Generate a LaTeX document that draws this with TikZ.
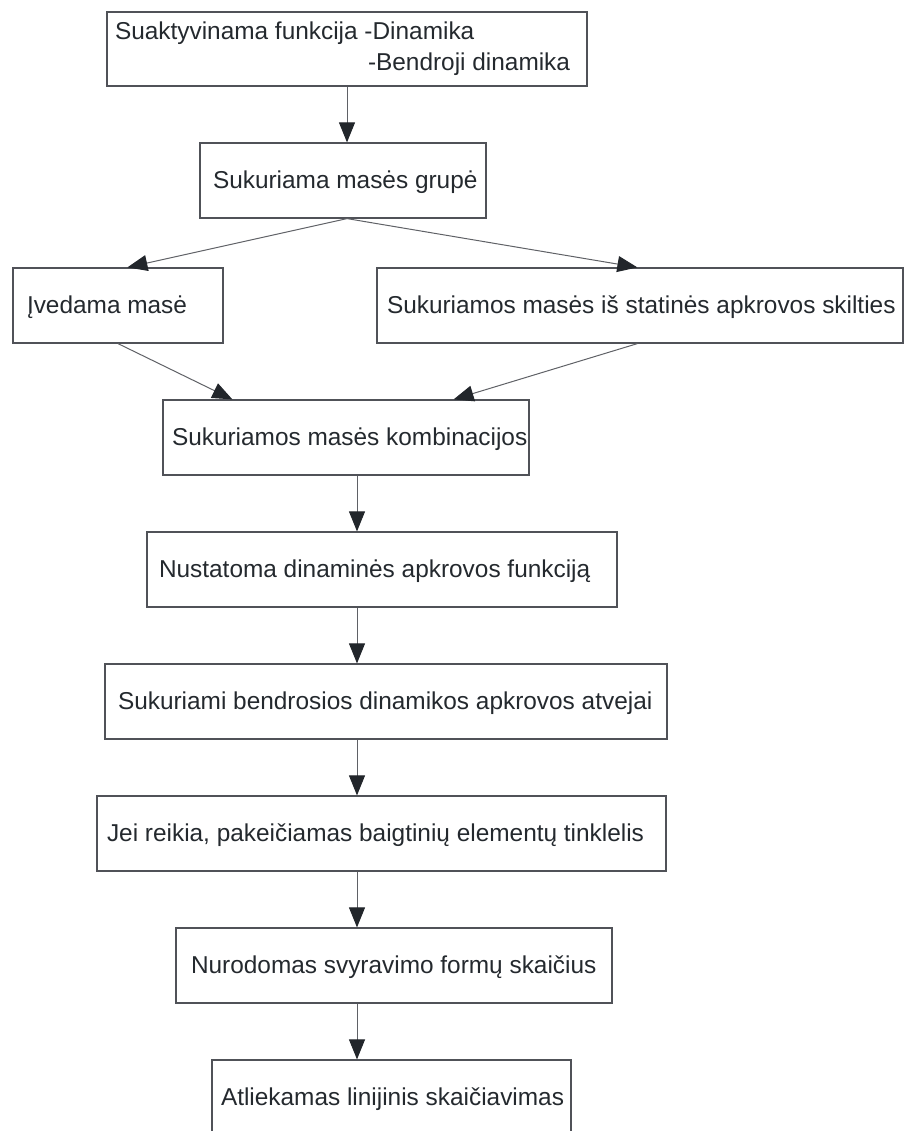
\documentclass[tikz,border=0pt]{standalone}
\usepackage{fontspec}
\setmainfont{Liberation Sans}
\usetikzlibrary{arrows.meta,calc}
\definecolor{txt}{RGB}{36,41,46}
\definecolor{edge}{RGB}{80,82,88}
\definecolor{conn}{RGB}{95,97,102}
\definecolor{head}{RGB}{34,38,43}
\tikzset{
  box/.style={draw=edge, line width=1.2pt, inner sep=0pt, minimum height=75pt,
    text=txt, font=\fontsize{24.4}{31}\selectfont},
  onel/.style={text height=21pt, text depth=5pt},
  arr/.style={draw=conn, line width=1pt,
    -{Triangle[length=20pt,width=16pt,color=head]}},
}
\begin{document}
\begin{tikzpicture}[x=1pt,y=-1pt]
\useasboundingbox (0,0) rectangle (909,1131);
\node[box, minimum height=74pt] (A) at (347,49) {\vbox{\hbox to 480pt{\hskip8pt Suaktyvinama funkcija -Dinamika\hss}\hbox to 480pt{\hskip261pt -Bendroji dinamika\hss}}};
\node[box,onel] (B) at (343,180.5) {\hbox to 286pt{\hskip13pt Sukuriama masės grupė\hss}};
\node[box,onel] (C) at (118,305.5) {\hbox to 210pt{\hskip14pt Įvedama masė\hss}};
\node[box,onel] (D) at (640,305.5) {\hbox to 526pt{\hskip10pt Sukuriamos masės iš statinės apkrovos skilties\hss}};
\node[box,onel] (E) at (346,437.5) {\hbox to 366pt{\hskip9pt Sukuriamos masės kombinacijos\hss}};
\node[box,onel] (F) at (382,569.5) {\hbox to 470pt{\hskip12pt Nustatoma dinaminės apkrovos funkciją\hss}};
\node[box,onel] (G) at (386,701.5) {\hbox to 562pt{\hskip13pt Sukuriami bendrosios dinamikos apkrovos atvejai\hss}};
\node[box,onel] (H) at (381.5,833.5) {\hbox to 569pt{\hskip10pt Jei reikia, pakeičiamas baigtinių elementų tinklelis\hss}};
\node[box,onel] (I) at (394,965.5) {\hbox to 436pt{\hskip15pt Nurodomas svyravimo formų skaičius\hss}};
\node[box,onel] (J) at (391.5,1097.5) {\hbox to 359pt{\hskip9pt Atliekamas linijinis skaičiavimas\hss}};
\coordinate (ax) at (357,0);
\coordinate (bs) at (A.south |- B.south);
\draw[arr] (A.south) -- (A.south |- B.north);
\draw[arr] (bs) -- ($(C.north west)+(115,0)$);
\draw[arr] (bs) -- ($(D.north west)+(261,0)$);
\draw[arr] (C.south) -- ($(E.north west)+(70,0)$);
\draw[arr] ($(D.south west)+(261,0)$) -- ($(E.north east)+(-76,0)$);
\draw[arr] (ax |- E.south) -- (ax |- F.north);
\draw[arr] (ax |- F.south) -- (ax |- G.north);
\draw[arr] (ax |- G.south) -- (ax |- H.north);
\draw[arr] (ax |- H.south) -- (ax |- I.north);
\draw[arr] (ax |- I.south) -- (ax |- J.north);
\end{tikzpicture}
\end{document}
